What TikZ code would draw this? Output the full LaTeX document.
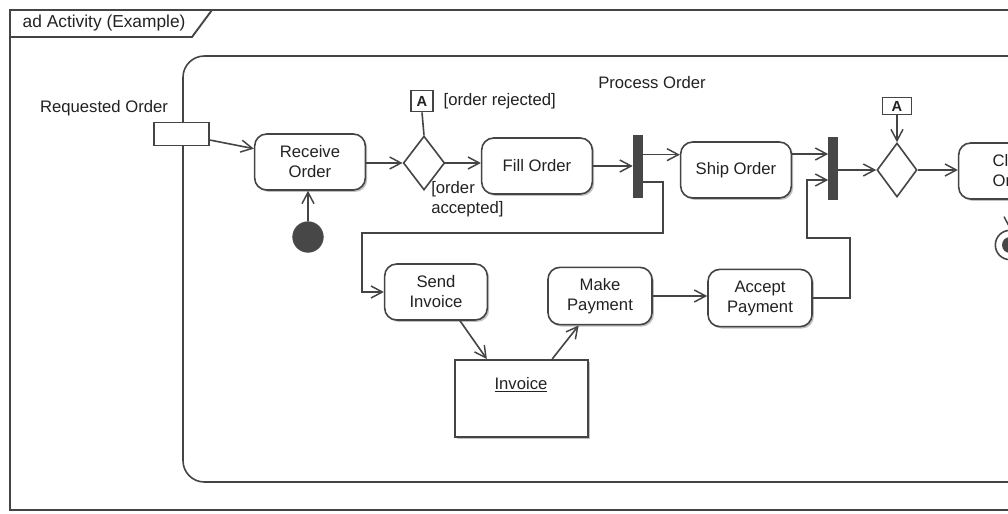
\documentclass[tikz,border=0pt]{standalone}
\usepackage{fontspec}
\setmainfont{Liberation Sans}
\usetikzlibrary{arrows.meta,shapes.geometric,shadows}
\definecolor{linec}{HTML}{444444}
\definecolor{textc}{HTML}{222222}
\definecolor{barc}{HTML}{474747}
\tikzset{
  every node/.style={text=textc, font=\fontsize{12.5pt}{15pt}\selectfont},
  action/.style={draw=linec, line width=1.2pt, rounded corners=9pt, fill=white,
    minimum width=83pt, minimum height=42pt, align=center, inner sep=2pt,
    drop shadow={shadow xshift=1.4pt, shadow yshift=-1.4pt, fill=black!35, opacity=0.7}},
  objbox/.style={draw=linec, line width=1.2pt, fill=white,
    drop shadow={shadow xshift=1.4pt, shadow yshift=-1.4pt, fill=black!35, opacity=0.7}},
  decision/.style={diamond, draw=linec, line width=1.2pt, fill=white, inner sep=0pt,
    minimum width=31pt, minimum height=40.5pt},
  bar/.style={rectangle, draw=barc, fill=barc, inner sep=0pt,
    minimum width=6.8pt, minimum height=46.5pt},
  connA/.style={rectangle, draw=linec, line width=1.1pt, inner sep=0pt,
    font=\bfseries\fontsize{11pt}{12pt}\selectfont},
  pinbox/.style={rectangle, draw=linec, line width=1.2pt, fill=white, inner sep=0pt,
    minimum width=41pt, minimum height=17pt},
  flow/.style={draw=linec, line width=1.2pt,
    -{Straight Barb[length=8.5pt, width=9pt, line width=1.1pt]}},
  plainflow/.style={draw=linec, line width=1.2pt},
  frameline/.style={draw=linec, line width=1.4pt},
}
\begin{document}
\begin{tikzpicture}[x=0.75pt, y=-0.75pt]
\useasboundingbox (0,0) rectangle (1008,514);
\clip (0,0) rectangle (1008,514);
\fill[white] (0,0) rectangle (1008,514);

% diagram frame with its name tab
\draw[frameline] (10,10) rectangle (1040,510);
\draw[frameline] (10,37) -- (192,37) -- (212,10);
\node[anchor=west, font=\fontsize{13pt}{15pt}\selectfont] (title) at (18,23) {ad Activity (Example)};

% activity region
\draw[draw=linec, line width=1.2pt, rounded corners=16pt] (183,56) rectangle (1075,482);
\node (procname) at (652,83) {Process Order};

% input parameter
\node (reqlabel) at (104,108) {Requested Order};
\node[pinbox] (pin) at (181.5,134) {};

% initial node
\node[circle, fill=barc, draw=barc, minimum size=23pt, inner sep=0pt] (init) at (308,237) {};

% actions
\node[action] (recv) at (310,162) {Receive\\Order};
\node[action] (fill) at (537,166) {Fill Order};
\node[action] (ship) at (736,170) {Ship Order};
\node[action] (close) at (1014,171) {Close\\Order};
\node[action, minimum width=77pt] (send) at (436,292) {Send\\Invoice};
\node[action, minimum width=78pt, minimum height=43pt] (make) at (600,296) {Make\\Payment};
\node[action, minimum width=78pt, minimum height=43pt] (accept) at (760,298) {Accept\\Payment};

% object node
\node[objbox, minimum width=100pt, minimum height=58pt] (inv) at (521.5,398.5) {};
\node (invlabel) at (521,385) {\underline{Invoice}};

% decisions and connectors
\node[decision] (dec1) at (424,163) {};
\node[connA, minimum width=16.5pt, minimum height=16pt] (A1) at (422,101) {A};
\node[anchor=west] (rej) at (439,101) {[order rejected]};
\node[anchor=north west, align=left, inner sep=0pt] (acc) at (431,181) {[order\\accepted]};

\node[decision, minimum width=30pt] (dec2) at (897,170) {};
\node[connA, minimum width=22pt, minimum height=13pt] (A2) at (897,106) {A};

% fork and join bars
\node[bar] (fork) at (637.5,166) {};
\node[bar] (join) at (833,168.5) {};

% final node
\node[circle, draw=linec, line width=1.2pt, fill=white, minimum size=22pt, inner sep=0pt] (final) at (1010,245) {};
\node[circle, fill=barc, minimum size=12pt, inner sep=0pt] (finalin) at (1010,245) {};

% routing points
\coordinate (f1a) at (663,233);
\coordinate (f1b) at (362,233);
\coordinate (a1) at (850,238);
\coordinate (a2) at (807,238);
\coordinate (a3) at (807,180);

% flows
\draw[flow] ([yshift=-4.5pt]pin.east) -- ([yshift=10pt]recv.west);
\draw[flow] (init.north) -- (init.north |- recv.south);
\draw[flow] (recv.east |- dec1.west) -- (dec1.west);
\draw[plainflow] (A1.south) -- (dec1.north);
\draw[flow] (dec1.east) -- (dec1.east -| fill.west);
\draw[flow] (fill.east) -- (fill.east -| fork.west);
\draw[flow] ([yshift=8.5pt]fork.east) -- ([yshift=8.5pt]fork.east -| ship.west);
\draw[flow] ([yshift=-12pt]fork.east) -| (f1a) -- (f1b) |- (send.west);
\draw[flow] ([xshift=18pt]send.south) -- ([xshift=-26pt]inv.north);
\draw[flow] ([xshift=23pt]inv.north) -- ([xshift=-16pt]make.south);
\draw[flow] (make.east) -- (make.east -| accept.west);
\draw[flow] (accept.east) -| (a1) -- (a2) -- (a3) -- (a3 -| join.west);
\draw[flow] ([yshift=12pt]ship.east) -- ([yshift=12pt]ship.east -| join.west);
\draw[flow] (join.east |- dec2.west) -- (dec2.west);
\draw[flow] (A2.south) -- (dec2.north);
\draw[flow] (dec2.east) -- (dec2.east -| close.west);
\draw[flow] (final.north |- close.south) -- (final.north);
\end{tikzpicture}
\end{document}
